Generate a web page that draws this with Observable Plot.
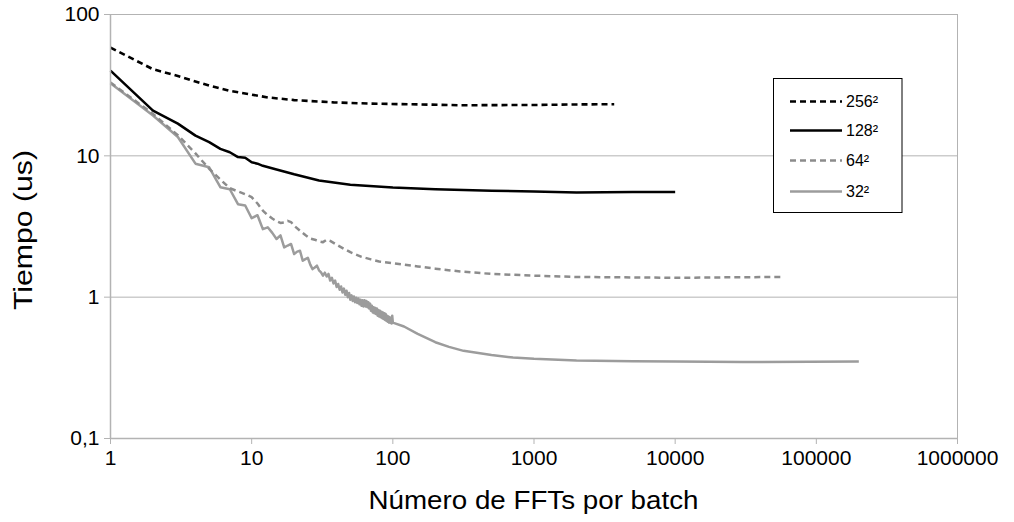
<!DOCTYPE html>
<html>
<head>
<meta charset="utf-8">
<script src="https://cdn.jsdelivr.net/npm/d3@7"></script>
<script src="https://cdn.jsdelivr.net/npm/@observablehq/plot@0.6"></script>
<style>
  html, body { margin: 0; padding: 0; background: #fff; }
  #chart { width: 1014px; height: 522px; }
</style>
</head>
<body>
<div id="chart"></div>
<script>
// ---- data ----
const seriesNames = ["256²", "128²", "64²", "32²"];

const x256 = [1, 2, 3, 4, 5, 7, 10, 13, 20, 38, 70, 157, 300, 1000, 2000, 3700];
const y256 = [58.3, 41.0, 36.7, 33.6, 31.4, 28.8, 27.1, 25.9, 24.8, 23.9, 23.4, 23.1, 22.8, 22.9, 23.1, 23.2];

const x128 = [1, 2, 3, 4, 5, 6, 7, 8, 9, 10, 11, 12, 15, 20, 30, 50, 100, 200, 500, 1000, 2000, 5000, 10000];
const y128 = [40.1, 20.9, 16.9, 13.9, 12.5, 11.2, 10.6, 9.8, 9.7, 9.0, 8.8, 8.5, 8.0, 7.4, 6.7, 6.25, 5.96, 5.8, 5.67, 5.6, 5.5, 5.55, 5.55];

const x64 = [1, 2, 3, 4, 5, 6, 7, 8, 9, 10, 11, 12, 13, 14, 15, 16, 17, 18, 19, 20, 22, 24, 26, 28, 30, 32, 34, 36, 40, 45, 50, 60, 70, 80, 100, 150, 200, 300, 500, 1000, 2000, 5000, 10000, 20000, 58000];
const y64 = [33, 19.8, 14.0, 10.4, 8.1, 6.8, 5.9, 5.6, 5.35, 5.1, 4.6, 4.1, 3.8, 3.6, 3.45, 3.35, 3.38, 3.47, 3.4, 3.2, 2.95, 2.75, 2.6, 2.55, 2.48, 2.45, 2.55, 2.5, 2.35, 2.2, 2.08, 1.93, 1.85, 1.79, 1.74, 1.65, 1.59, 1.52, 1.46, 1.42, 1.39, 1.38, 1.37, 1.38, 1.39];

const x32 = [1, 2, 3, 4, 5, 6, 7, 8, 9, 10, 11, 12, 13, 14, 15, 16, 17, 18, 19, 20,
  21, 22, 23, 24, 25, 26, 27, 28, 29, 30, 31, 32, 33, 34, 35, 36, 37, 38, 39, 40,
  41, 42, 43, 44, 45, 46, 47, 48, 49, 50, 51, 52, 53, 54, 55, 56, 57, 58, 59, 60,
  61, 62, 63, 64, 65, 66, 67, 68, 69, 70, 71, 72, 73, 74, 75, 76, 77, 78, 79, 80,
  81, 82, 83, 84, 85, 86, 87, 88, 89, 90, 91, 92, 93, 94, 95, 96, 97, 98, 99, 100,
  120, 150, 200, 250, 317, 500, 710, 1000, 2000, 5000, 10000, 30000, 200000];
const y32 = [32.6, 19.3, 13.6, 8.8, 8.3, 6.0, 5.8, 4.55, 4.45, 3.62, 3.8, 3.03, 3.12, 2.85, 2.58, 2.74, 2.25, 2.32, 2.38, 2.02,
  2.10, 2.13, 1.81, 1.86, 1.90, 1.70, 1.58, 1.62, 1.67, 1.55, 1.50, 1.42, 1.49, 1.40, 1.46, 1.31, 1.37, 1.25, 1.31, 1.18,
  1.24, 1.13, 1.19, 1.08, 1.15, 1.04, 1.11, 1.00, 1.07, 0.96, 1.03, 0.94, 1.01, 0.92, 0.99, 0.91, 0.98, 0.89, 0.96, 0.87,
  0.95, 0.86, 0.95, 0.86, 0.94, 0.85, 0.92, 0.83, 0.90, 0.80, 0.87, 0.78, 0.85, 0.77, 0.84, 0.76, 0.83, 0.74, 0.81, 0.73,
  0.80, 0.72, 0.79, 0.71, 0.78, 0.70, 0.77, 0.69, 0.76, 0.68, 0.74, 0.67, 0.73, 0.66, 0.72, 0.66, 0.71, 0.65, 0.74, 0.66,
  0.62, 0.55, 0.48, 0.445, 0.417, 0.39, 0.374, 0.366, 0.356, 0.352, 0.35, 0.348, 0.35];

const xTicks = [1, 10, 100, 1000, 10000, 100000, 1000000];
const yTicks = [0.1, 1, 10, 100];
const yTickLabels = ["0,1", "1", "10", "100"];

const xTitle = "Número de FFTs por batch";
const yTitle = "Tiempo (us)";

// ---- styles per series ----
const styles = {
  "256²": {stroke: "#000000", dash: "6,4", width: 2.6},
  "128²": {stroke: "#000000", dash: null, width: 2.5},
  "64²":  {stroke: "#8c8c8c", dash: "6,4", width: 2.5},
  "32²":  {stroke: "#9c9c9c", dash: null, width: 2.5}
};

const zip = (xs, ys) => xs.map((x, i) => ({x, y: ys[i]}));
const series = {
  "256²": zip(x256, y256),
  "128²": zip(x128, y128),
  "64²": zip(x64, y64),
  "32²": zip(x32, y32)
};

const gridColor = "#b3b3b3";
const font = "Liberation Sans, Arial, sans-serif";

const lineMarks = ["32²", "64²", "128²", "256²"].map(name =>
  Plot.line(series[name], {
    x: "x", y: "y",
    stroke: styles[name].stroke,
    strokeWidth: styles[name].width,
    strokeDasharray: styles[name].dash || undefined,
    strokeLinejoin: "round",
    strokeLinecap: "butt"
  })
);

const chart = Plot.plot({
  width: 1014,
  height: 522,
  marginLeft: 110,
  marginRight: 57,
  marginTop: 14,
  marginBottom: 84,
  style: {fontFamily: font, fontSize: "21px", color: "#000", background: "#fff", overflow: "visible"},
  x: {type: "log", domain: [1, 1000000]},
  y: {type: "log", domain: [0.1, 100]},
  marks: [
    Plot.gridY([1, 10, 100], {stroke: gridColor, strokeOpacity: 1, strokeWidth: 1}),
    Plot.ruleX([1000000], {stroke: gridColor, strokeWidth: 1}),
    ...lineMarks,
    Plot.ruleX([1], {stroke: gridColor, strokeWidth: 1.5}),
    Plot.ruleY([0.1], {stroke: gridColor, strokeWidth: 1.5}),
    Plot.axisX({ticks: xTicks, tickFormat: d => String(Math.round(d)), tickSize: 6, tickPadding: 6,
      stroke: gridColor, fill: "#000", fontSize: 21, label: null}),
    Plot.axisY({ticks: yTicks, tickFormat: d => yTickLabels[yTicks.indexOf(d)], tickSize: 6, tickPadding: 5,
      stroke: gridColor, fill: "#000", fontSize: 21, label: null})
  ]
});

document.getElementById("chart").appendChild(chart);

// ---- axis titles and legend ----
const svg = d3.select(chart);
svg.append("text")
  .attr("x", 533.5).attr("y", 509)
  .attr("text-anchor", "middle")
  .attr("textLength", 330).attr("lengthAdjust", "spacingAndGlyphs")
  .style("font-family", font).style("font-size", "25px").attr("fill", "#000")
  .text(xTitle);
svg.append("text")
  .attr("transform", "translate(32,230) rotate(-90)")
  .attr("text-anchor", "middle")
  .attr("textLength", 160).attr("lengthAdjust", "spacingAndGlyphs")
  .style("font-family", font).style("font-size", "25px").attr("fill", "#000")
  .text(yTitle);

const lg = svg.append("g");
lg.append("rect")
  .attr("x", 773.5).attr("y", 78.5).attr("width", 128.5).attr("height", 134)
  .attr("fill", "#fff").attr("stroke", "#000").attr("stroke-width", 1);
const rowY = [101.5, 130.5, 160.5, 191.5];
seriesNames.forEach((name, i) => {
  const s = styles[name];
  lg.append("line")
    .attr("x1", 790).attr("x2", 842).attr("y1", rowY[i]).attr("y2", rowY[i])
    .attr("stroke", s.stroke).attr("stroke-width", s.width)
    .attr("stroke-dasharray", s.dash || null);
  lg.append("text")
    .attr("x", 846).attr("y", rowY[i]).attr("dy", "0.36em")
    .attr("text-anchor", "start")
    .style("font-family", font).style("font-size", "16px").attr("fill", "#000")
    .text(name);
});
</script>
</body>
</html>
